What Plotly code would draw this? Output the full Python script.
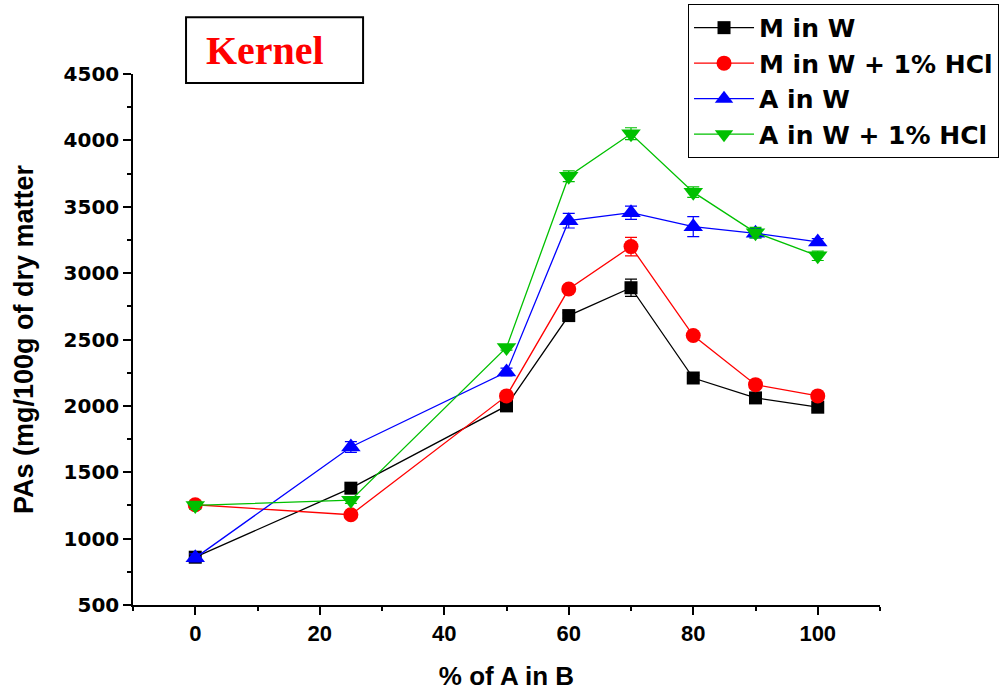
import plotly.graph_objects as go

# Percentage of A in the B solvent
pct_a = [0, 25, 50, 60, 70, 80, 90, 100]

# PAs content (mg/100g of dry matter) and standard deviations
m_in_w = [860, 1380, 2000, 2680, 2890, 2210, 2060, 1990]
m_in_w_err = [20, 25, 25, 20, 65, 20, 35, 20]

m_in_w_hcl = [1255, 1180, 2075, 2880, 3200, 2530, 2160, 2075]
m_in_w_hcl_err = [25, 20, 20, 20, 70, 20, 20, 20]

a_in_w = [855, 1690, 2255, 3395, 3455, 3350, 3300, 3235]
a_in_w_err = [30, 40, 30, 55, 50, 75, 35, 25]

a_in_w_hcl = [1250, 1290, 2440, 3730, 4050, 3610, 3305, 3130]
a_in_w_hcl_err = [30, 25, 20, 40, 45, 40, 40, 35]

series = [
    ("M in W", m_in_w, m_in_w_err, "#000000", "square", 13),
    ("M in W + 1% HCl", m_in_w_hcl, m_in_w_hcl_err, "#FF0000", "circle", 15),
    ("A in W", a_in_w, a_in_w_err, "#0000FF", "triangle-up", 17),
    ("A in W + 1% HCl", a_in_w_hcl, a_in_w_hcl_err, "#00C000", "triangle-down", 17),
]

fig = go.Figure()
for name, vals, errs, color, symbol, size in series:
    fig.add_trace(go.Scatter(
        x=pct_a, y=vals, name=name, mode="lines+markers",
        line=dict(color=color, width=1.3),
        marker=dict(color=color, symbol=symbol, size=size, line=dict(width=0)),
        error_y=dict(type="data", array=errs, color=color, thickness=1.2, width=6),
    ))

bold = "Arial, Liberation Sans, sans-serif"
narrow = "Liberation Sans Narrow, Arial Narrow, Arial"

fig.update_layout(
    width=1006, height=696,
    margin=dict(l=133, r=126, t=74, b=91, autoexpand=False),
    paper_bgcolor="white", plot_bgcolor="white",
    font=dict(family=bold, color="black", weight="bold"),
    showlegend=True,
    legend=dict(
        x=0.743, y=1.132, xanchor="left", yanchor="top",
        bordercolor="black", borderwidth=1, bgcolor="white",
        font=dict(family="DejaVu Sans, Arial", size=25, color="black", weight="bold"),
        itemwidth=60, tracegroupgap=0,
    ),
    xaxis=dict(
        range=[-10, 110], tickvals=[0, 20, 40, 60, 80, 100],
        showgrid=False, zeroline=False, showline=True, linecolor="black", linewidth=1.5,
        ticks="outside", ticklen=8, tickwidth=1.5, tickcolor="black",
        minor=dict(dtick=10, tick0=0, ticks="outside", ticklen=4, tickwidth=1.5, tickcolor="black"),
        tickfont=dict(family=narrow, size=22, weight="bold"),
        title=dict(text="% of A in B", standoff=22,
                   font=dict(family=narrow, size=26, weight="bold")),
        automargin=False,
    ),
    yaxis=dict(
        range=[500, 4500], dtick=500, tick0=500,
        showgrid=False, zeroline=False, showline=True, linecolor="black", linewidth=1.5,
        ticks="outside", ticklen=8, tickwidth=1.5, tickcolor="black",
        minor=dict(dtick=250, tick0=500, ticks="outside", ticklen=4, tickwidth=1.5, tickcolor="black"),
        tickfont=dict(family="DejaVu Sans, Arial", size=20, weight="bold"),
        title=dict(text="PAs (mg/100g of dry matter", standoff=22,
                   font=dict(family=bold, size=27, weight="bold")),
        automargin=False,
    ),
)

# Sample label box
fig.add_shape(type="rect", xref="paper", yref="paper",
              x0=0.071, x1=0.308, y0=0.983, y1=1.107,
              line=dict(color="black", width=2), fillcolor="white", layer="above")
fig.add_annotation(text="Kernel", xref="paper", yref="paper",
                   x=0.1767, y=1.045, xanchor="center", yanchor="middle",
                   showarrow=False,
                   font=dict(family="Liberation Serif, Times New Roman, serif",
                             size=40, color="#FF0000", weight="bold"))

fig.write_html("out.html")
